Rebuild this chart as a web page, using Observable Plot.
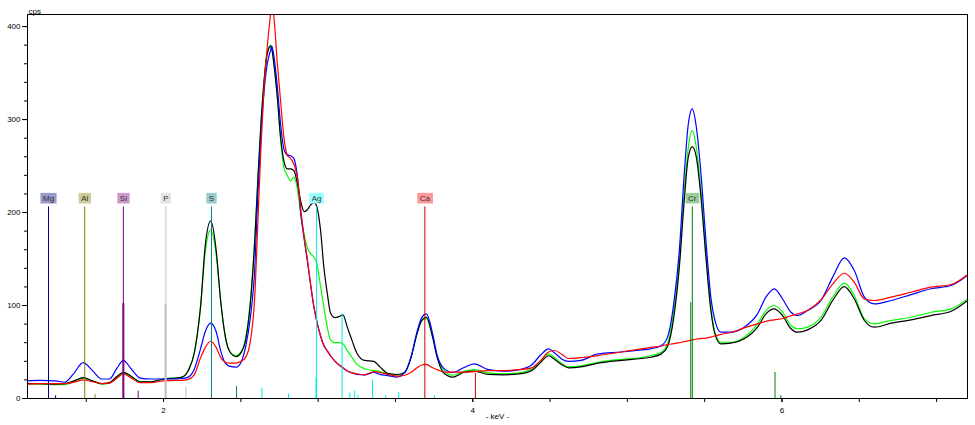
<!DOCTYPE html>
<html><head><meta charset="utf-8">
<script src="https://cdn.jsdelivr.net/npm/d3@7"></script>
<script src="https://cdn.jsdelivr.net/npm/@observablehq/plot@0.6"></script>
<style>
html,body{margin:0;padding:0;background:#fff;}
#chart{width:975px;height:425px;}
</style></head><body><div id="chart"></div>
<script>
// Energy grid (keV)
const energy = [1.12,1.20,1.30,1.36,1.42,1.48,1.54,1.60,1.65,1.70,1.74,1.79,1.85,1.92,2.00,2.08,2.12,2.16,2.20,2.24,2.27,2.305,2.34,2.37,2.40,2.43,2.47,2.50,2.53,2.56,2.59,2.61,2.63,2.65,2.67,2.693,2.70,2.714,2.736,2.757,2.779,2.80,2.822,2.843,2.865,2.89,2.91,2.93,2.95,2.973,2.99,3.016,3.037,3.06,3.08,3.11,3.14,3.16,3.19,3.22,3.25,3.30,3.36,3.40,3.45,3.51,3.56,3.60,3.64,3.67,3.70,3.74,3.77,3.81,3.87,3.94,4.01,4.10,4.20,4.30,4.38,4.44,4.49,4.53,4.58,4.62,4.70,4.81,4.96,5.09,5.15,5.22,5.26,5.30,5.336,5.368,5.394,5.42,5.446,5.476,5.508,5.54,5.573,5.605,5.67,5.756,5.842,5.896,5.95,6.004,6.058,6.10,6.166,6.252,6.328,6.403,6.468,6.533,6.597,6.705,6.835,6.964,7.094,7.20];

// Spectra (cps)
const black = [16,16,15.5,16,19,22.5,19,16,17,24,28,24,18,18,21,22,23,30,50,100,165,191,160,104,66,50,45,49,62,100,170,235,295,341,370,379,376,359,324,281,255,247,247,245,232,210,201,203,208,211,207,180,141,112,92,87,88.5,90,76,62,49,41,40,34,27,25.8,28,44,70,84,87.5,66,44,28,23,28,29.5,26,25.5,26.5,30,39,46,42,36,33,34,38,41,43,44.4,48,56,87,141,213,259.5,271,259.5,216.5,152,94.6,66,58.8,59.5,64.2,76.7,91,96.4,89.2,75,71.3,73.8,83.9,105.4,120.4,107,83.9,76.7,81,84.6,89.2,93.9,105.4];
const green = [16,15.5,15,15,18,22,19,15.5,16.5,23,27.5,24,18,18,21,22,23,30,50,100,158,181,155,104,66,50,46,50,64,102,172,237,297,342,372,380,378,360,324,278,248,240,234,238,226,195,176,162,156,152,146,120,98,76,63,60,60,59,51,44,37,32,30,29,26,25,28,44,70,84,86,67,46,31,25,29,31,27.5,26.5,27.5,32,41,48,44,37,34,35,39,42,44,46,49.8,59,94.6,148,224,270,288,270,224,159,98,67.7,60.5,60.5,66,80.3,94.6,100,92.8,78.5,75,76.7,87.4,109,124,110.8,85.7,80.3,83.9,87.4,92.8,96.4,107];
const blue = [19,19.5,19,17.5,27,38.5,30,21,21,33,41,32,22,21,21,21,21.5,23,32,54,72,81,72,51,38,34.5,33.7,38.5,55,85,140,220,285,330,359,375,379,368,335,295,268,262,261,258,240,195,171,148,124,98,84,67,57,51,46,40,35.5,33,29.5,27.5,26,25.5,28,26,24.7,23,28,44,72,87,91,70,46,33,28,33,37.3,31,29.4,31,36,47,53.4,49,42,40,41,48,50,52.3,53.4,57,66,102,159,242,295,311.5,292,242,170,109,80,71.3,71.3,76.7,91,109,118,107,92.8,89.2,94.6,105.4,130.5,151.3,137.6,109,101.8,105.4,111.8,118,121.5,132.3];
const red = [15.5,16,16,16,17.5,20,18,16,16.5,22,26.5,22,17,17,19,19.5,19.5,20.5,26,44,55,61.6,55,44,39,38,38,40,44,60,110,190,270,335,377,415,425,410,360,320,280,262,258,252,238,200,172,150,124,98,84,67,57,51,46,40,35.5,33,29.5,27.5,26.5,25.5,29,28,26,24,25,28,33,36,36.6,33,31,28.5,28.3,28.3,29,30,30,31,33,41,50,51.6,47,43,44,46.2,50,53.4,55,56.5,58,59,60,61,62,63,64,64.5,65,66,67.7,69,71,76,80.3,83,84.6,86,89,91,95,106,123,134.7,125,107,105.4,109,114.3,119.7,122.6,133.3];

// Element markers (keV)
const elemNames = ["Mg","Al","Si","P","S","Ag","Ca","Cr"];
const elemEnergy = [1.256,1.490,1.740,2.015,2.310,2.990,3.690,5.420];

// Secondary emission lines: element, energy (keV), height (cps)
const subElem   = ["Mg","Al","Si","Si","P","P","S","Ag","Ag","Ag","Ag","Ag","Ag","Ag","Ag","Ag","Ag","Ag","Ca","Cr","Cr","Cr"];
const subEnergy = [1.302,1.557,1.740,1.836,2.013,2.145,2.472,2.636,2.808,2.986,3.155,3.205,3.236,3.257,3.352,3.437,3.521,3.752,4.017,5.410,5.955,5.993];
const subHeight = [3,4,102,8,101,12,13,11,5,22,91,6,8,3,20,3,6.5,3,27,103,28,3];

// Tick labels
const yMajor = [0,100,200,300,400];
const xMajor = [2,4,6];

// Styles
const elemLine = {Mg:"#000080",Al:"#808000",Si:"#800080",P:"#c0c0c0",S:"#008080",Ag:"#00e8e8",Ca:"#d00000",Cr:"#008000"};
const elemBox  = {Mg:"#9999cc",Al:"#cccc99",Si:"#cc99cc",P:"#e4e4e4",S:"#99cccc",Ag:"#99ffff",Ca:"#ff9999",Cr:"#99cc99"};
const lineTop = 206;      // cps level where marker lines end
const labelLevel = 215.5; // cps level of the label boxes

const mk = arr => energy.map((e, i) => ({e, v: arr[i]}));
const elements = elemNames.map((n, i) => ({name: n, e: elemEnergy[i]}));
const subLines = subElem.map((el, i) => ({el, e: subEnergy[i], h: subHeight[i]}));

const chart = Plot.plot({
  width: 975, height: 425,
  marginLeft: 27, marginRight: 8, marginTop: 14, marginBottom: 27,
  x: {domain: [1.12, 7.2], label: null},
  y: {domain: [0, 413], label: null},
  color: {type: "identity"},
  style: {fontFamily: "'Liberation Sans', Arial, sans-serif", fontSize: "8px", background: "#fff", color: "#000", overflow: "visible"},
  marks: [
    Plot.line(mk(green), {x: "e", y: "v", stroke: "#00ff00", strokeWidth: 1.2, curve: "monotone-x", clip: true}),
    Plot.line(mk(black), {x: "e", y: "v", stroke: "#000000", strokeWidth: 1.2, curve: "monotone-x", clip: true}),
    Plot.line(mk(blue), {x: "e", y: "v", stroke: "#0000ff", strokeWidth: 1.2, curve: "monotone-x", clip: true}),
    Plot.line(mk(red), {x: "e", y: "v", stroke: "#ff0000", strokeWidth: 1.2, curve: "monotone-x", clip: true}),
    Plot.ruleX(subLines, {x: "e", y1: 0, y2: "h", stroke: d => elemLine[d.el], strokeWidth: d => (d.h > 95 && d.el !== "Cr") ? 2 : 1}),
    Plot.ruleX(elements, {x: "e", y1: 0, y2: lineTop, stroke: d => elemLine[d.name], strokeWidth: 1}),
    Plot.text(elements, {x: "e", y: labelLevel, text: "name", fill: "#333", fontSize: 8, className: "elabel"}),
    Plot.frame({stroke: "#000", strokeWidth: 1}),
    Plot.axisY({ticks: d3.range(0, 413, 20), tickSize: 3, text: null}),
    Plot.axisY({ticks: yMajor, tickSize: 5, tickPadding: 2, fontSize: 8}),
    Plot.axisX({ticks: d3.range(1.5, 7.2, 0.5), tickSize: 4, text: null}),
    Plot.axisX({ticks: xMajor, tickSize: 4, tickPadding: 5, fontSize: 8, tickFormat: d => String(d)}),
    Plot.text(["cps"], {frameAnchor: "top-left", text: d => d, textAnchor: "start", dx: 1, dy: -6, fontSize: 8}),
    Plot.text(["- keV -"], {frameAnchor: "bottom", text: d => d, dy: 20, fontSize: 8})
  ]
});

document.getElementById("chart").append(chart);

// Coloured boxes behind element labels
const svgns = "http://www.w3.org/2000/svg";
chart.querySelectorAll("g.elabel text").forEach((t, i) => {
  const b = t.getBBox();
  const r = document.createElementNS(svgns, "rect");
  const cy = b.y + b.height / 2;
  r.setAttribute("x", b.x - 2.5);
  r.setAttribute("width", b.width + 5);
  r.setAttribute("y", cy - 5.3);
  r.setAttribute("height", 10.6);
  r.setAttribute("fill", elemBox[elements[i].name]);
  const tr = t.getAttribute("transform");
  if (tr) r.setAttribute("transform", tr);
  t.parentNode.insertBefore(r, t);
});
</script>
</body></html>
